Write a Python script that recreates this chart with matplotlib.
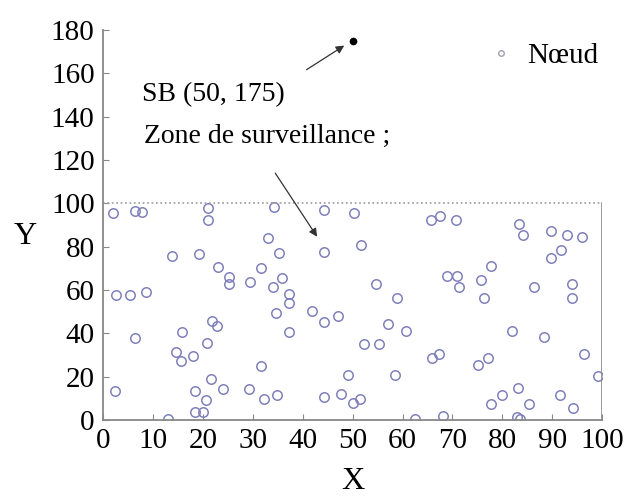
import numpy as np
import matplotlib.pyplot as plt
from matplotlib.lines import Line2D

####################    DATA    ####################
# node positions
node_x = [2.1, 6.4, 7.9, 21.1, 21.1, 34.3, 33.1, 35.3, 13.8, 19.3, 23.0, 25.3, 25.3, 29.5, 31.6,
          34.0, 35.8, 37.3, 37.3, 34.7, 37.3, 41.8, 2.6, 5.4, 8.6, 6.5, 15.8, 14.6, 15.6, 18.0,
          20.8, 21.9, 22.9, 21.6, 24.0, 18.4, 20.6, 18.4, 20.1, 13.1, 2.4, 29.3, 31.6, 32.3, 34.9,
          44.3, 50.3, 44.2, 51.7, 54.7, 58.9, 44.3, 47.0, 57.0, 60.7, 52.2, 55.2, 49.0, 58.4, 44.2,
          47.6, 50.0, 51.4, 62.5, 68.2, 65.7, 67.5, 70.7, 68.9, 71.0, 71.3, 75.8, 77.7, 76.4, 65.9,
          67.4, 75.1, 77.2, 77.7, 79.9, 83.2, 85.4, 82.9, 83.6, 81.9, 86.4, 88.4, 83.4, 84.1, 89.7,
          89.7, 91.7, 92.9, 96.0, 93.9, 93.9, 96.4, 99.1, 91.6, 94.1]
node_y = [95.6, 96.6, 96.2, 97.9, 92.5, 98.2, 84.1, 77.2, 75.7, 76.8, 70.8, 66.2, 62.7, 63.8, 70.3,
          61.2, 65.7, 58.1, 53.8, 49.4, 40.8, 50.5, 57.6, 57.6, 59.2, 37.8, 40.8, 31.3, 27.2, 29.4,
          35.6, 45.6, 43.3, 18.8, 14.1, 13.5, 9.2, 3.5, 3.5, 0.5, 13.5, 14.1, 24.8, 9.6, 11.5,
          96.8, 95.6, 77.7, 80.6, 62.7, 56.1, 45.1, 48.2, 44.3, 41.0, 34.9, 34.9, 21.0, 20.6, 10.7,
          12.2, 7.9, 9.5, 0.5, 2.0, 92.2, 94.0, 92.2, 66.5, 66.5, 61.5, 64.5, 71.1, 56.1, 28.6,
          30.3, 25.5, 28.7, 7.3, 11.5, 15.0, 7.2, 1.5, 0.6, 41.0, 61.5, 38.5, 90.5, 85.2, 87.2,
          74.9, 78.3, 85.2, 84.5, 62.7, 56.1, 30.3, 20.2, 11.5, 5.4]

sb_x, sb_y = 50, 175
zone_w, zone_h = 100, 100

x_ticks = [0, 10, 20, 30, 40, 50, 60, 70, 80, 90, 100]
y_ticks = [0, 20, 40, 60, 80, 100, 120, 140, 160, 180]

####################    PLOT    ####################
plt.rcParams['font.family'] = ['Liberation Serif', 'DejaVu Serif']
fig = plt.figure(figsize=(6.28, 5.0), dpi=100)
ax = fig.add_axes([0.164, 0.16, 0.795, 0.78])

ax.plot(node_x, node_y, 'o', ls='none', mfc='none', mec='#8080bb', ms=6.8, mew=1.1)
ax.plot([sb_x], [sb_y], 'o', color='black', ms=4.5)

# monitoring zone border (top dotted, right solid)
ax.plot([0, zone_w], [zone_h, zone_h], ls=':', color='#999999', lw=1.2)
ax.plot([zone_w, zone_w], [0, zone_h], ls='-', color='#8a8a8a', lw=1.2)

ax.annotate('', xy=(48.8, 173.5), xytext=(40.3, 161),
            arrowprops=dict(arrowstyle='-|>', color='#333333', lw=0.9, mutation_scale=12))
ax.text(7.8, 150, 'SB (50, 175)', fontsize=20, va='center', ha='left')
ax.text(8.2, 131, 'Zone de surveillance ;', fontsize=20, va='center', ha='left')
ax.annotate('', xy=(43.2, 83.5), xytext=(34.2, 115),
            arrowprops=dict(arrowstyle='-|>', color='#333333', lw=0.9, mutation_scale=12))

ax.set_xlim(0, 100)
ax.set_ylim(0, 180)
ax.set_xticks(x_ticks)
ax.set_yticks(y_ticks)
ax.tick_params(direction='in', length=4, color='#888888', labelsize=21, pad=6)
for s in ['top', 'right']:
    ax.spines[s].set_visible(False)
for s in ['left', 'bottom']:
    ax.spines[s].set_color('#888888')
    ax.spines[s].set_linewidth(1.3)

ax.set_xlabel('X', fontsize=23, labelpad=9)
ax.set_ylabel('Y', fontsize=23, rotation=0, va='center', ha='center')
ax.yaxis.set_label_coords(-0.156, 0.47)

# legend with a small grey marker like the original
handle = Line2D([], [], marker='o', ls='none', mfc='none', mec='#a0a0b0', ms=4, mew=1)
ax.legend([handle], ['Nœud'], loc='upper right', frameon=False, fontsize=21,
          handletextpad=0.5, handlelength=0.8, bbox_to_anchor=(1.045, 1.035))

fig.savefig('out.png', dpi=100)
